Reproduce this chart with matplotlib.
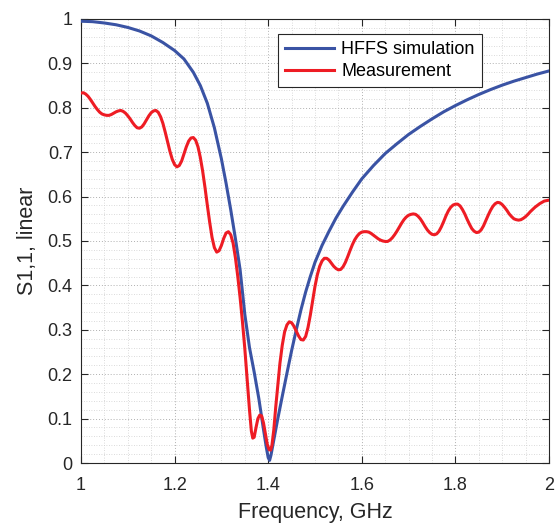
import matplotlib
matplotlib.use("Agg")
import matplotlib.pyplot as plt
from matplotlib.ticker import MultipleLocator, FixedLocator

plt.rcParams['font.family'] = ['Liberation Sans', 'DejaVu Sans']

# HFFS simulation
sim_f = [1.000, 1.025, 1.050, 1.075, 1.100, 1.125, 1.150, 1.175, 1.200, 1.220,
         1.240, 1.255, 1.270, 1.285, 1.300, 1.310, 1.320, 1.330, 1.340, 1.350,
         1.360, 1.370, 1.380, 1.390, 1.396, 1.400, 1.403, 1.406, 1.412, 1.420,
         1.430, 1.440, 1.450, 1.460, 1.470, 1.480, 1.490, 1.500, 1.515, 1.530,
         1.545, 1.560, 1.580, 1.600, 1.625, 1.650, 1.675, 1.700, 1.725, 1.750,
         1.775, 1.800, 1.825, 1.850, 1.875, 1.900, 1.925, 1.950, 1.975, 2.000]
sim_s11 = [0.995, 0.994, 0.991, 0.987, 0.981, 0.973, 0.962, 0.947, 0.929, 0.910,
           0.880, 0.850, 0.810, 0.755, 0.685, 0.630, 0.570, 0.505, 0.435, 0.335,
           0.260, 0.205, 0.145, 0.075, 0.035, 0.012, 0.006, 0.018, 0.052, 0.097,
           0.150, 0.202, 0.253, 0.300, 0.345, 0.385, 0.420, 0.452, 0.490, 0.522,
           0.552, 0.578, 0.610, 0.640, 0.670, 0.697, 0.719, 0.740, 0.758, 0.775,
           0.791, 0.805, 0.818, 0.830, 0.841, 0.851, 0.860, 0.868, 0.876, 0.883]

meas_f = [1.000, 1.005, 1.010, 1.015, 1.020, 1.025, 1.030, 1.035, 1.040, 1.045,
          1.050, 1.055, 1.060, 1.065, 1.070, 1.075, 1.080, 1.085, 1.090, 1.095,
          1.100, 1.105, 1.110, 1.115, 1.120, 1.125, 1.130, 1.135, 1.140, 1.145,
          1.150, 1.155, 1.160, 1.165, 1.170, 1.175, 1.180, 1.185, 1.190, 1.195,
          1.200, 1.205, 1.210, 1.215, 1.220, 1.225, 1.230, 1.235, 1.240, 1.245,
          1.250, 1.255, 1.260, 1.265, 1.270, 1.275, 1.280, 1.285, 1.290, 1.295,
          1.300, 1.305, 1.310, 1.315, 1.320, 1.325, 1.330, 1.335, 1.340, 1.345,
          1.350, 1.355, 1.360, 1.364, 1.367, 1.370, 1.374, 1.378, 1.382, 1.386,
          1.390, 1.394, 1.398, 1.402, 1.405, 1.408, 1.412, 1.416, 1.420, 1.425,
          1.430, 1.435, 1.440, 1.445, 1.450, 1.455, 1.460, 1.465, 1.470, 1.475,
          1.480, 1.485, 1.490, 1.495, 1.500, 1.505, 1.510, 1.515, 1.520, 1.525,
          1.530, 1.535, 1.540, 1.545, 1.550, 1.555, 1.560, 1.565, 1.570, 1.575,
          1.580, 1.585, 1.590, 1.595, 1.600, 1.605, 1.610, 1.615, 1.620, 1.625,
          1.630, 1.635, 1.640, 1.645, 1.650, 1.655, 1.660, 1.665, 1.670, 1.675,
          1.680, 1.685, 1.690, 1.695, 1.700, 1.705, 1.710, 1.715, 1.720, 1.725,
          1.730, 1.735, 1.740, 1.745, 1.750, 1.755, 1.760, 1.765, 1.770, 1.775,
          1.780, 1.785, 1.790, 1.795, 1.800, 1.805, 1.810, 1.815, 1.820, 1.825,
          1.830, 1.835, 1.840, 1.845, 1.850, 1.855, 1.860, 1.865, 1.870, 1.875,
          1.880, 1.885, 1.890, 1.895, 1.900, 1.905, 1.910, 1.915, 1.920, 1.925,
          1.930, 1.935, 1.940, 1.945, 1.950, 1.955, 1.960, 1.965, 1.970, 1.975,
          1.980, 1.985, 1.990, 1.995, 2.000]
meas_s11 = [0.833, 0.834, 0.831, 0.826, 0.819, 0.811, 0.803, 0.796, 0.790, 0.786,
            0.784, 0.783, 0.783, 0.785, 0.788, 0.791, 0.793, 0.794, 0.792, 0.788,
            0.782, 0.775, 0.767, 0.760, 0.755, 0.754, 0.757, 0.764, 0.773, 0.782,
            0.789, 0.793, 0.794, 0.790, 0.780, 0.765, 0.745, 0.723, 0.702, 0.684,
            0.672, 0.667, 0.670, 0.680, 0.696, 0.712, 0.725, 0.732, 0.733, 0.727,
            0.712, 0.688, 0.657, 0.620, 0.580, 0.542, 0.508, 0.485, 0.475, 0.478,
            0.490, 0.506, 0.518, 0.521, 0.514, 0.495, 0.462, 0.420, 0.372, 0.318,
            0.258, 0.190, 0.120, 0.072, 0.056, 0.058, 0.080, 0.100, 0.108, 0.106,
            0.090, 0.066, 0.042, 0.030, 0.029, 0.040, 0.075, 0.125, 0.170, 0.224,
            0.265, 0.295, 0.311, 0.318, 0.316, 0.308, 0.297, 0.286, 0.278, 0.277,
            0.285, 0.305, 0.333, 0.366, 0.398, 0.424, 0.443, 0.455, 0.461, 0.461,
            0.457, 0.450, 0.443, 0.438, 0.435, 0.436, 0.442, 0.452, 0.465, 0.479,
            0.492, 0.503, 0.511, 0.517, 0.520, 0.521, 0.521, 0.520, 0.517, 0.513,
            0.509, 0.505, 0.502, 0.500, 0.499, 0.499, 0.502, 0.507, 0.514, 0.522,
            0.531, 0.540, 0.548, 0.554, 0.558, 0.560, 0.561, 0.560, 0.556, 0.550,
            0.542, 0.533, 0.525, 0.519, 0.515, 0.514, 0.516, 0.522, 0.532, 0.544,
            0.557, 0.568, 0.576, 0.581, 0.583, 0.583, 0.579, 0.571, 0.561, 0.549,
            0.538, 0.528, 0.522, 0.519, 0.520, 0.525, 0.534, 0.546, 0.558, 0.569,
            0.578, 0.584, 0.587, 0.586, 0.582, 0.576, 0.569, 0.561, 0.555, 0.550,
            0.548, 0.547, 0.548, 0.551, 0.555, 0.560, 0.566, 0.571, 0.576, 0.580,
            0.584, 0.587, 0.590, 0.591, 0.592]

x_ticks = [1.0, 1.2, 1.4, 1.6, 1.8, 2.0]
x_tick_labels = ["1", "1.2", "1.4", "1.6", "1.8", "2"]
y_ticks = [0.0, 0.1, 0.2, 0.3, 0.4, 0.5, 0.6, 0.7, 0.8, 0.9, 1.0]
y_tick_labels = ["0", "0.1", "0.2", "0.3", "0.4", "0.5", "0.6", "0.7", "0.8", "0.9", "1"]

fig = plt.figure(figsize=(5.58, 5.25), dpi=100)
ax = fig.add_axes([81/558, 1 - 463/525, 468/558, 444/525])

ax.plot(sim_f, sim_s11, color='#3A53A4', lw=2.2, label='HFFS simulation', zorder=3,
        solid_joinstyle='round')
ax.plot(meas_f, meas_s11, color='#EE1C24', lw=2.2, label='Measurement', zorder=4,
        solid_joinstyle='round')

ax.set_xlim(1, 2)
ax.set_ylim(0, 1)
ax.xaxis.set_major_locator(FixedLocator(x_ticks))
ax.set_xticklabels(x_tick_labels)
ax.yaxis.set_major_locator(FixedLocator(y_ticks))
ax.set_yticklabels(y_tick_labels)
ax.xaxis.set_minor_locator(MultipleLocator(0.05))
ax.yaxis.set_minor_locator(MultipleLocator(0.02))

ax.grid(which='major', color='#b0b0b0', linestyle=(0, (1, 2)), linewidth=0.7)
ax.grid(which='minor', color='#cfcfcf', linestyle=(0, (1, 2)), linewidth=0.6)
ax.set_axisbelow(True)

ax.tick_params(which='major', direction='in', length=5, width=0.8, top=True, right=True,
               labelsize=13, colors='#262626')
ax.tick_params(axis='x', which='major', pad=10)
ax.tick_params(axis='y', which='major', pad=6)
ax.tick_params(which='minor', length=0, top=True, right=True)
for sp in ax.spines.values():
    sp.set_color('#262626')
    sp.set_linewidth(0.8)

ax.set_xlabel('Frequency, GHz', fontsize=15.5, color='#262626', labelpad=6)
ax.set_ylabel('S1,1, linear', fontsize=15.5, color='#262626', labelpad=7)

leg = ax.legend(loc='upper left', bbox_to_anchor=(0.421, 0.966), fontsize=13,
                frameon=True, fancybox=False, edgecolor='#262626', framealpha=1,
                handlelength=2.7, handletextpad=0.4, borderpad=0.4, labelspacing=0.25,
                borderaxespad=0)
leg.get_frame().set_linewidth(0.8)

fig.savefig('out.png', dpi=100)
